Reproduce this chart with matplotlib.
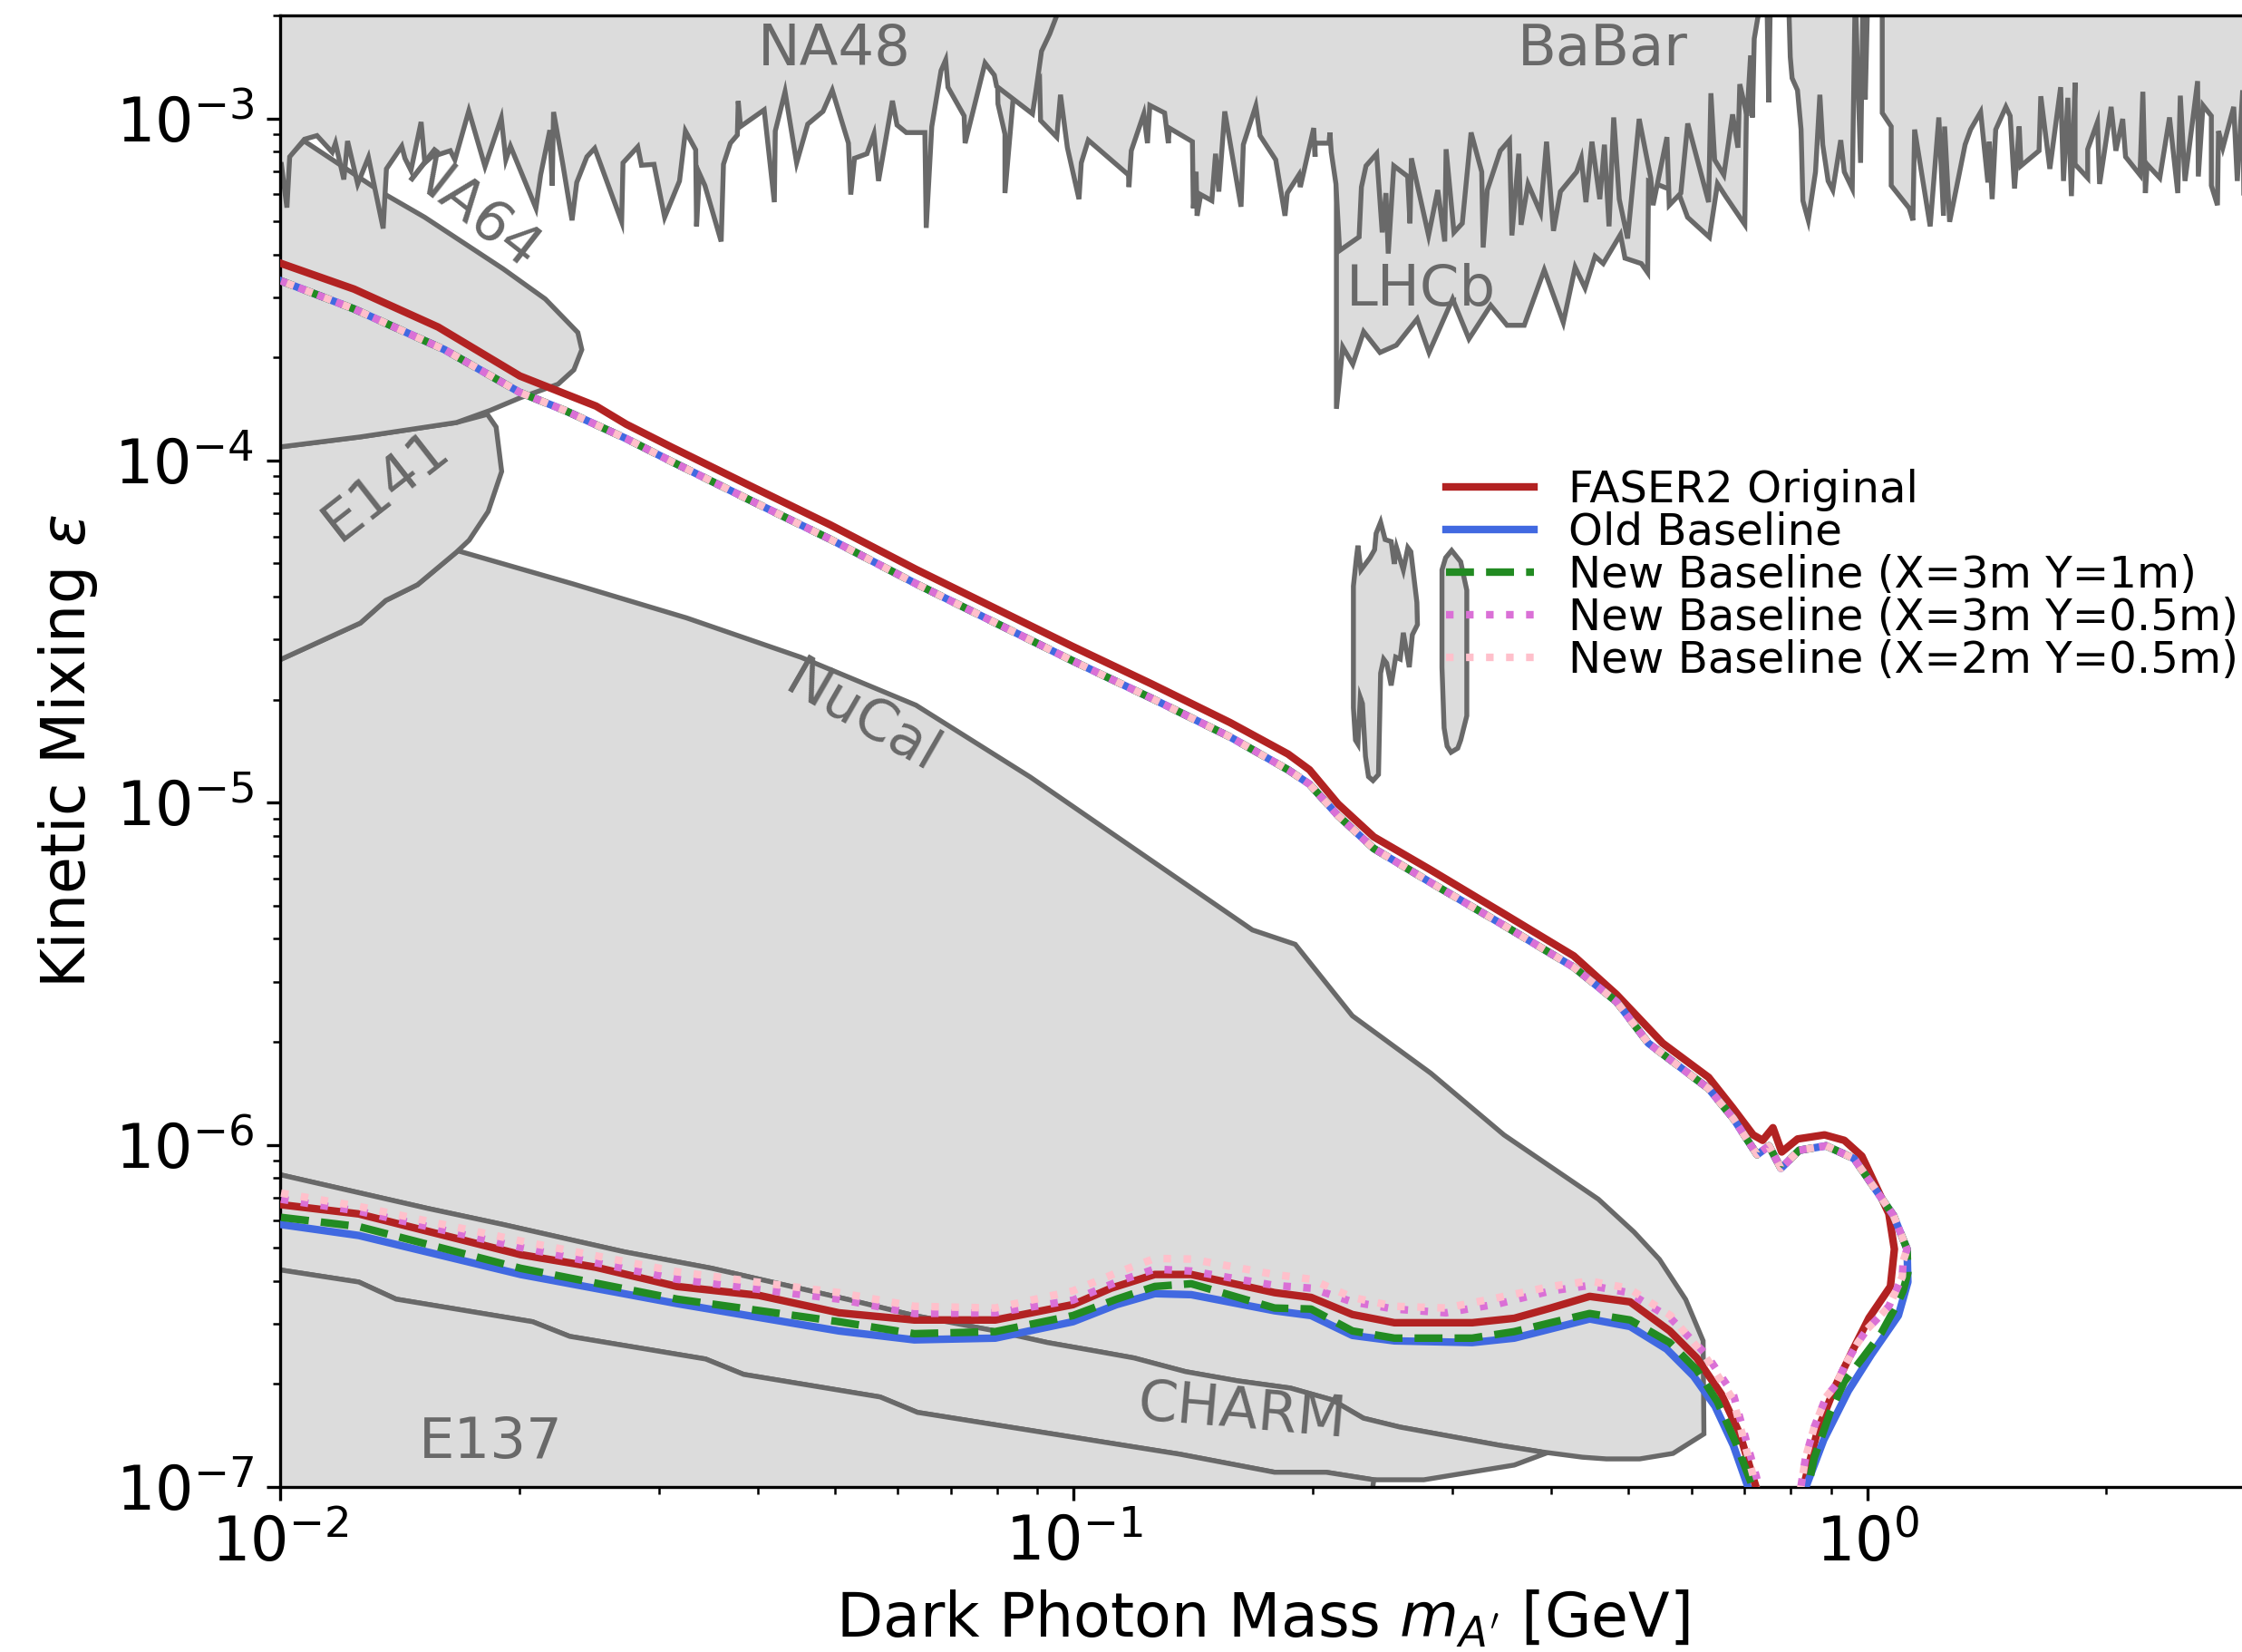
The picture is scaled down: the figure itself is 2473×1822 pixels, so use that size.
import numpy as np
import matplotlib.pyplot as plt

# all shapes are (log10 m [GeV], log10 eps) pairs

# ---------------- FASER2 reach contours ----------------
# lower branches: left to right, ending just below the x-axis
orig_lower = [(-1.999, -6.175), (-1.901, -6.202), (-1.697, -6.321), (-1.602, -6.358), (-1.500, -6.414),
              (-1.397, -6.440), (-1.296, -6.491), (-1.201, -6.512), (-1.099, -6.512), (-1.001, -6.467),
              (-0.953, -6.419), (-0.898, -6.379), (-0.852, -6.379), (-0.747, -6.432), (-0.701, -6.446),
              (-0.649, -6.496), (-0.596, -6.520), (-0.498, -6.520), (-0.445, -6.507), (-0.399, -6.477),
              (-0.350, -6.443), (-0.299, -6.459), (-0.249, -6.544), (-0.215, -6.623), (-0.184, -6.729),
              (-0.161, -6.844), (-0.140, -7.003), (-0.135, -7.100)]
# upper branch: from m = 0.01 over the tip down to the x-axis
orig_upper = [(-1.999, -3.424), (-1.907, -3.499), (-1.801, -3.610), (-1.698, -3.753), (-1.602, -3.841),
              (-1.564, -3.894), (-1.506, -3.962), (-1.407, -4.075), (-1.307, -4.188), (-1.199, -4.318),
              (-1.100, -4.431), (-1.001, -4.544), (-0.902, -4.653), (-0.803, -4.766), (-0.730, -4.858),
              (-0.703, -4.904), (-0.667, -5.004), (-0.622, -5.100), (-0.550, -5.197), (-0.460, -5.322),
              (-0.370, -5.448), (-0.316, -5.561), (-0.258, -5.703), (-0.200, -5.803), (-0.170, -5.891),
              (-0.144, -5.971), (-0.132, -5.987), (-0.119, -5.950), (-0.108, -6.021), (-0.088, -5.983),
              (-0.054, -5.971), (-0.029, -5.987), (-0.007, -6.033), (0.005, -6.092), (0.027, -6.201),
              (0.034, -6.305), (0.029, -6.414), (0.002, -6.506), (-0.018, -6.598), (-0.040, -6.703),
              (-0.063, -6.837), (-0.081, -7.004), (-0.086, -7.100)]

# the four baseline curves share the upper branch up to the tip
base_upper = [(-1.999, -3.475), (-1.907, -3.557), (-1.793, -3.676), (-1.698, -3.801), (-1.641, -3.854),
              (-1.564, -3.936), (-1.506, -4.004), (-1.407, -4.117), (-1.307, -4.230), (-1.199, -4.360),
              (-1.100, -4.473), (-1.001, -4.586), (-0.902, -4.695), (-0.803, -4.808), (-0.730, -4.904),
              (-0.703, -4.946), (-0.667, -5.038), (-0.622, -5.134), (-0.550, -5.234), (-0.460, -5.356),
              (-0.370, -5.481), (-0.316, -5.582), (-0.276, -5.703), (-0.200, -5.836), (-0.169, -5.923),
              (-0.139, -6.029), (-0.124, -6.003), (-0.109, -6.069), (-0.086, -6.016), (-0.052, -6.003),
              (-0.017, -6.040), (-0.001, -6.093), (0.033, -6.207), (0.050, -6.305)]
old_tail = [(0.051, -6.401), (0.039, -6.499), (0.005, -6.613), (-0.024, -6.719), (-0.055, -6.862),
            (-0.078, -7.003), (-0.085, -7.100)]
x3y1_tail = [(0.051, -6.374), (0.045, -6.427), (0.036, -6.472), (0.017, -6.552), (-0.006, -6.623),
             (-0.029, -6.692), (-0.047, -6.782), (-0.067, -6.915), (-0.075, -7.003), (-0.080, -7.100)]
y05_tail = [(0.045, -6.340), (0.044, -6.385), (0.036, -6.427), (0.027, -6.472), (0.013, -6.507),
            (0.000, -6.538), (-0.012, -6.578), (-0.027, -6.639), (-0.040, -6.703), (-0.052, -6.737),
            (-0.067, -6.825), (-0.078, -6.915), (-0.084, -7.003), (-0.088, -7.100)]

old_lower = [(-1.999, -6.233), (-1.901, -6.265), (-1.697, -6.379), (-1.500, -6.464), (-1.296, -6.544),
             (-1.201, -6.570), (-1.099, -6.565), (-1.001, -6.517), (-0.946, -6.467), (-0.898, -6.435),
             (-0.852, -6.438), (-0.747, -6.485), (-0.701, -6.499), (-0.649, -6.557), (-0.596, -6.573),
             (-0.498, -6.578), (-0.445, -6.565), (-0.399, -6.538), (-0.350, -6.509), (-0.299, -6.531),
             (-0.253, -6.597), (-0.219, -6.676), (-0.192, -6.764), (-0.169, -6.878), (-0.150, -7.003),
             (-0.145, -7.100)]
x3y1_lower = [(-1.999, -6.212), (-1.901, -6.239), (-1.697, -6.361), (-1.500, -6.451), (-1.296, -6.517),
              (-1.201, -6.552), (-1.099, -6.546), (-1.001, -6.499), (-0.946, -6.451), (-0.898, -6.414),
              (-0.852, -6.406), (-0.747, -6.477), (-0.701, -6.480), (-0.649, -6.544), (-0.596, -6.565),
              (-0.498, -6.565), (-0.445, -6.546), (-0.399, -6.520), (-0.350, -6.493), (-0.299, -6.512),
              (-0.249, -6.578), (-0.215, -6.658), (-0.189, -6.751), (-0.166, -6.870), (-0.144, -7.003),
              (-0.139, -7.100)]
x3y05_lower = [(-1.999, -6.159), (-1.901, -6.194), (-1.697, -6.300), (-1.500, -6.393), (-1.296, -6.451),
               (-1.201, -6.493), (-1.099, -6.491), (-1.001, -6.454), (-0.946, -6.401), (-0.898, -6.363),
               (-0.852, -6.369), (-0.747, -6.411), (-0.701, -6.419), (-0.649, -6.459), (-0.596, -6.480),
               (-0.531, -6.491), (-0.464, -6.464), (-0.399, -6.427), (-0.350, -6.411), (-0.301, -6.432),
               (-0.248, -6.507), (-0.203, -6.613), (-0.169, -6.729), (-0.136, -7.003), (-0.132, -7.100)]
x2y05_lower = [(-1.999, -6.141), (-1.901, -6.180), (-1.697, -6.281), (-1.500, -6.371), (-1.296, -6.432),
               (-1.201, -6.472), (-1.099, -6.477), (-1.001, -6.427), (-0.946, -6.374), (-0.898, -6.332),
               (-0.852, -6.334), (-0.747, -6.379), (-0.701, -6.393), (-0.649, -6.446), (-0.596, -6.472),
               (-0.531, -6.477), (-0.464, -6.446), (-0.399, -6.414), (-0.350, -6.398), (-0.301, -6.419),
               (-0.248, -6.499), (-0.203, -6.623), (-0.169, -6.745), (-0.140, -7.003), (-0.136, -7.100)]

# ---------------- excluded regions ----------------
na48_edge = [(-1.9986, -3.1344), (-1.9916, -3.2608), (-1.9881, -3.1123), (-1.9695, -3.0610), (-1.9537, -3.0504),
             (-1.9345, -3.0990), (-1.9304, -3.0725), (-1.9199, -3.1786), (-1.9152, -3.0663), (-1.9024, -3.1918),
             (-1.8889, -3.1140), (-1.8703, -3.3218), (-1.8662, -3.1476), (-1.8469, -3.0813), (-1.8429, -3.1167),
             (-1.8353, -3.1520), (-1.8225, -3.0106), (-1.8178, -3.1300), (-1.8090, -3.1123), (-1.7857, -3.0946),
             (-1.7799, -3.1211), (-1.7624, -2.9779), (-1.7420, -3.1406), (-1.7215, -2.9991), (-1.7157, -3.1211),
             (-1.7099, -3.0813), (-1.6778, -3.2626), (-1.6719, -3.1653), (-1.6603, -3.0345), (-1.6573, -3.1963),
             (-1.6556, -2.9814), (-1.6439, -3.1344), (-1.6323, -3.2980), (-1.6264, -3.1874), (-1.6136, -3.1123),
             (-1.6037, -3.0875), (-1.5698, -3.3024), (-1.5681, -3.1300), (-1.5495, -3.0831), (-1.5448, -3.1370),
             (-1.5290, -3.1344), (-1.5156, -3.2891), (-1.4969, -3.1830), (-1.4894, -3.0371), (-1.4765, -3.0919),
             (-1.4754, -3.3156), (-1.4718, -3.1609), (-1.4649, -3.1963), (-1.4444, -3.3598), (-1.4415, -3.1344),
             (-1.4328, -3.0725), (-1.4240, -3.0486), (-1.4229, -2.9496), (-1.4200, -3.0239), (-1.3902, -2.9752),
             (-1.3774, -3.2449), (-1.3762, -3.0371), (-1.3639, -2.9222), (-1.3493, -3.1300), (-1.3353, -3.0168),
             (-1.3161, -2.9796), (-1.3044, -2.9178), (-1.2840, -3.0725), (-1.2811, -3.2228), (-1.2764, -3.1167),
             (-1.2607, -3.1034), (-1.2519, -3.0459), (-1.2461, -3.1830), (-1.2286, -2.9487), (-1.2228, -3.0194),
             (-1.2111, -3.0415), (-1.1877, -3.0415), (-1.1860, -3.3201), (-1.1790, -3.0239), (-1.1673, -2.8603),
             (-1.1615, -2.8293), (-1.1586, -2.9089), (-1.1382, -2.9929), (-1.1370, -3.0725), (-1.1119, -2.8382),
             (-1.1002, -2.8736), (-1.0973, -2.9062),
             # right edge rising to the top
             (-1.0521, -2.9867), (-1.0476, -2.9178), (-1.0407, -2.8037), (-1.0304, -2.7533), (-1.0212, -2.6976),
             (-1.0132, -2.6260)]

babar_edge = [(-1.0956, -2.9576), (-1.0868, -3.0460), (-1.0868, -3.2184), (-1.0752, -2.9089), (-1.0577, -2.8780),
              (-1.0501, -2.9178), (-1.0431, -2.8912), (-1.0419, -3.0062), (-1.0215, -3.0548), (-1.0168, -2.9310),
              (-1.0081, -3.0857), (-0.9935, -3.2361), (-0.9906, -3.1299), (-0.9818, -3.0637), (-0.9311, -3.1653),
              (-0.9305, -3.2007), (-0.9276, -3.0946), (-0.9118, -2.9867), (-0.9072, -3.0725), (-0.9042, -2.9620),
              (-0.8856, -2.9841), (-0.8809, -3.0725), (-0.8797, -3.0283), (-0.8506, -3.0681), (-0.8494, -3.2626),
              (-0.8459, -3.1565), (-0.8447, -3.2847), (-0.8401, -3.2228), (-0.8261, -3.2405), (-0.8214, -3.1034),
              (-0.8173, -3.2140), (-0.8098, -2.9797), (-0.7893, -3.2582), (-0.7864, -3.0769), (-0.7707, -2.9637),
              (-0.7654, -3.0504), (-0.7456, -3.1211), (-0.7339, -3.2847), (-0.7310, -3.2184), (-0.7164, -3.1653),
              (-0.7146, -3.2007), (-0.6977, -3.0283), (-0.6960, -3.1123), (-0.6960, -3.0725), (-0.6785, -3.0725),
              (-0.6773, -3.0415), (-0.6756, -3.0990), (-0.6697, -3.1918), (-0.6651, -3.3864), (-0.6405, -3.3466),
              (-0.6376, -3.2007), (-0.6318, -3.1388), (-0.6184, -3.1034), (-0.6114, -3.3333), (-0.6067, -3.2184),
              (-0.6038, -3.3952), (-0.5968, -3.1388), (-0.5793, -3.1697), (-0.5764, -3.3068), (-0.5746, -3.1167),
              (-0.5530, -3.3422), (-0.5414, -3.2095), (-0.5326, -3.3598), (-0.5309, -3.0902), (-0.5210, -3.3333),
              (-0.5105, -3.3068), (-0.4994, -3.0415), (-0.4860, -3.1565), (-0.4842, -3.3775), (-0.4790, -3.2095),
              (-0.4626, -3.0946), (-0.4510, -3.0637), (-0.4480, -3.3422), (-0.4393, -3.1034), (-0.4364, -3.3112),
              (-0.4276, -3.1918), (-0.4119, -3.2759), (-0.4043, -3.0681), (-0.3956, -3.3289), (-0.3868, -3.2140),
              (-0.3664, -3.1565), (-0.3605, -3.1167), (-0.3547, -3.2449), (-0.3471, -3.0681), (-0.3372, -3.2361),
              (-0.3314, -3.0769), (-0.3256, -3.3156), (-0.3197, -2.9973), (-0.3127, -3.2361), (-0.3022, -3.3510),
              (-0.2876, -3.0017), (-0.2730, -3.1742), (-0.2701, -3.2538), (-0.2526, -3.0548), (-0.2497, -3.2538),
              (-0.2351, -3.2184), (-0.2264, -3.0150), (-0.2001, -3.2449), (-0.1972, -2.9266), (-0.1925, -3.1211),
              (-0.1809, -3.1653), (-0.1699, -2.9885), (-0.1631, -3.0857), (-0.1608, -2.9001), (-0.1517, -2.9929),
              (-0.1472, -2.8161), (-0.1449, -2.9973), (-0.1426, -2.7674), (-0.1381, -2.7056), (-0.1267, -2.6348),
              (-0.1244, -2.9531), (-0.1222, -2.6348), (-0.0995, -2.6348), (-0.0972, -2.8205), (-0.0949, -2.8824),
              (-0.0881, -2.9178), (-0.0836, -3.0327), (-0.0813, -3.2405), (-0.0745, -3.2980), (-0.0654, -3.1565),
              (-0.0599, -2.9310), (-0.0563, -3.0769), (-0.0495, -3.1830), (-0.0436, -3.2095), (-0.0336, -3.0637),
              (-0.0291, -3.1565), (-0.0191, -3.2051), (-0.0154, -2.6348), (-0.0086, -3.1300), (-0.0054, -2.6348),
              (-0.0027, -2.9443), (0.0005, -2.6348), (0.0187, -2.6348), (0.0187, -2.9841), (0.0300, -3.0238),
              (0.0300, -3.1963), (0.0527, -3.2626), (0.0573, -3.2980), (0.0595, -3.0327), (0.0791, -3.3156),
              (0.0900, -2.9973), (0.0959, -3.2847), (0.0973, -3.0238), (0.1036, -3.3024), (0.1231, -3.0769),
              (0.1300, -3.0327), (0.1427, -2.9814), (0.1518, -3.1874), (0.1536, -3.0681), (0.1572, -3.2361),
              (0.1617, -3.0327), (0.1745, -2.9664), (0.1799, -2.9929), (0.1854, -3.2051), (0.1913, -3.0238),
              (0.1935, -3.1388), (0.2163, -3.0946), (0.2185, -2.9354), (0.2299, -3.1476), (0.2435, -2.9089),
              (0.2471, -3.1830), (0.2526, -2.9399), (0.2571, -3.2272), (0.2617, -2.8956), (0.2617, -3.1344),
              (0.2776, -3.1742), (0.2776, -3.0902), (0.2899, -3.0106), (0.2926, -3.1918), (0.3071, -2.9664),
              (0.3131, -3.0946), (0.3217, -3.0017), (0.3253, -3.1123), (0.3435, -3.1653), (0.3471, -2.9222),
              (0.3503, -3.2184), (0.3525, -3.1344), (0.3684, -3.1742), (0.3807, -2.9973), (0.3911, -3.2184),
              (0.3943, -2.9337), (0.4002, -3.1830), (0.4161, -2.8912), (0.4170, -3.1698), (0.4229, -2.9620),
              (0.4334, -2.9929), (0.4334, -3.1963), (0.4411, -3.2538), (0.4425, -3.0371), (0.4479, -3.0857),
              (0.4616, -2.9664), (0.4661, -3.1830), (0.4729, -2.9178), (0.4743, -3.2184), (0.4900, -3.2184)]

lhcb_edge = [(-0.6691, -2.5995), (-0.6691, -3.8488), (-0.6611, -3.6684), (-0.6485, -3.7188), (-0.6348, -3.6234),
             (-0.6142, -3.6843), (-0.5936, -3.6631), (-0.5673, -3.5862), (-0.5524, -3.6843), (-0.5227, -3.5279),
             (-0.5021, -3.6446), (-0.4747, -3.5464), (-0.4541, -3.6048), (-0.4324, -3.6048), (-0.4072, -3.4430),
             (-0.3832, -3.5968), (-0.3683, -3.4350), (-0.3558, -3.4960), (-0.3432, -3.4032), (-0.3329, -3.4244),
             (-0.3112, -3.3395), (-0.3055, -3.4085), (-0.2849, -3.4244), (-0.2769, -3.4509), (-0.2758, -3.1830),
             (-0.2380, -3.2175), (-0.2266, -3.2891), (-0.1991, -3.3475), (-0.1889, -3.1910), (-0.1786, -3.2281),
             (-0.1545, -3.3103), (-0.1523, -2.9523), (-0.1500, -2.5995)]

na64_edge = [(-1.999, -3.135), (-1.970, -3.066), (-1.871, -3.218), (-1.818, -3.289), (-1.719, -3.440),
             (-1.666, -3.528), (-1.625, -3.626), (-1.620, -3.676), (-1.630, -3.735), (-1.650, -3.777),
             (-1.698, -3.817), (-1.736, -3.854), (-1.778, -3.889), (-1.899, -3.931), (-1.999, -3.960)]

e141_edge = [(-1.999, -3.960), (-1.899, -3.931), (-1.778, -3.889), (-1.739, -3.865), (-1.728, -3.902),
             (-1.721, -4.032), (-1.738, -4.149), (-1.762, -4.233), (-1.778, -4.268), (-1.827, -4.363),
             (-1.867, -4.409), (-1.899, -4.475), (-1.999, -4.581)]

nucal_upper = [(-1.999, -4.581), (-1.899, -4.475), (-1.867, -4.409), (-1.827, -4.363), (-1.776, -4.264),
               (-1.632, -4.360), (-1.488, -4.460), (-1.344, -4.575), (-1.199, -4.715), (-1.055, -4.925),
               (-0.911, -5.155), (-0.775, -5.372), (-0.721, -5.414), (-0.649, -5.623), (-0.550, -5.791),
               (-0.458, -5.971), (-0.339, -6.159), (-0.294, -6.255), (-0.262, -6.335), (-0.229, -6.452),
               (-0.207, -6.573), (-0.206, -6.845)]
# line between NuCal (above) and CHARM (below), left to right
nucal_charm = [(-1.999, -6.088), (-1.814, -6.186), (-1.719, -6.233), (-1.566, -6.313), (-1.456, -6.361),
               (-1.281, -6.454), (-1.201, -6.499), (-1.099, -6.544), (-1.033, -6.578), (-0.967, -6.605),
               (-0.924, -6.623), (-0.859, -6.663), (-0.793, -6.690), (-0.727, -6.711), (-0.675, -6.745),
               (-0.635, -6.799), (-0.589, -6.825), (-0.464, -6.878), (-0.412, -6.897), (-0.359, -6.913),
               (-0.329, -6.918), (-0.287, -6.918), (-0.245, -6.902), (-0.206, -6.845)]
# line between CHARM (above) and E137 (below), left to right
charm_e137 = [(-1.999, -6.366), (-1.901, -6.401), (-1.854, -6.451), (-1.682, -6.517), (-1.635, -6.560),
              (-1.464, -6.626), (-1.416, -6.671), (-1.244, -6.737), (-1.197, -6.782), (-0.924, -6.883),
              (-0.867, -6.904), (-0.747, -6.957), (-0.682, -6.957), (-0.622, -6.979), (-0.559, -6.979),
              (-0.445, -6.936), (-0.408, -6.904)]

island_left = [(-0.6420, -4.2488), (-0.6382, -4.3199), (-0.6268, -4.2843), (-0.6210, -4.2607), (-0.6191, -4.2132),
               (-0.6134, -4.1801), (-0.6077, -4.2310), (-0.6001, -4.2369), (-0.5962, -4.3021), (-0.5933, -4.2546),
               (-0.5848, -4.3199), (-0.5791, -4.2546), (-0.5753, -4.2666), (-0.5677, -4.4146), (-0.5670, -4.4796),
               (-0.5734, -4.5093), (-0.5773, -4.6040), (-0.5848, -4.5034), (-0.5887, -4.5804), (-0.5944, -4.5745),
               (-0.6001, -4.6573), (-0.6058, -4.5923), (-0.6096, -4.5804), (-0.6134, -4.6217), (-0.6161, -4.9178),
               (-0.6230, -4.9355), (-0.6287, -4.9239), (-0.6325, -4.8645), (-0.6363, -4.7106), (-0.6390, -4.6928),
               (-0.6420, -4.8289), (-0.6451, -4.8172), (-0.6477, -4.7225), (-0.6477, -4.3671), (-0.6439, -4.2843)]
island_right = [(-0.5239, -4.2629), (-0.5125, -4.2960), (-0.5087, -4.3377), (-0.5048, -4.3791), (-0.5048, -4.7461),
                (-0.5125, -4.8172), (-0.5162, -4.8408), (-0.5247, -4.8528), (-0.5296, -4.8350), (-0.5334, -4.7817),
                (-0.5361, -4.6040), (-0.5361, -4.3199), (-0.5315, -4.2843)]

# region labels: text, log10 m, log10 eps, rotation
region_labels = [('NA48', -1.302, -2.799, 0), ('BaBar', -0.334, -2.799, 0), ('LHCb', -0.563, -3.502, 0),
                 ('NA64', -1.758, -3.280, -38), ('E141', -1.867, -4.075, 38), ('NuCal', -1.266, -4.755, -30),
                 ('CHARM', -0.788, -6.782, -5), ('E137', -1.735, -6.870, 0)]

curve_labels = ['FASER2 Original', 'Old Baseline', 'New Baseline (X=3m Y=1m)',
                'New Baseline (X=3m Y=0.5m)', 'New Baseline (X=2m Y=0.5m)']

LEFT, TOP, BOT = -2.05, -2.40, -7.20


def region(ax, pts):
    pts = np.array(pts)
    ax.fill(10**pts[:, 0], 10**pts[:, 1], facecolor='gainsboro', edgecolor='dimgray',
            linewidth=1.3, zorder=1)


def contour(lower, upper):
    pts = np.array(lower + upper[::-1])
    return 10**pts[:, 0], 10**pts[:, 1]


fig = plt.figure(figsize=(2473 / 300, 1822 / 300), dpi=300)
ax = fig.add_axes([0.125, 0.0999, 0.8768, 0.8908])

nucal = [(LEFT, nucal_upper[0][1])] + nucal_upper + nucal_charm[::-1] + [(LEFT, nucal_charm[0][1])]
charm = [(LEFT, nucal_charm[0][1])] + nucal_charm[:19] + charm_e137[::-1] + [(LEFT, charm_e137[0][1])]
e137 = [(LEFT, charm_e137[0][1])] + charm_e137[:14] + [(-0.635, BOT), (LEFT, BOT)]
e141 = [(LEFT, e141_edge[0][1])] + e141_edge + [(LEFT, e141_edge[-1][1])]
na64 = [(LEFT, na64_edge[0][1])] + na64_edge + [(LEFT, na64_edge[-1][1])]
babar = [(-1.10, TOP)] + babar_edge + [(0.49, TOP)]
na48 = [(LEFT, TOP), (LEFT, na48_edge[0][1])] + na48_edge + [(-1.0132, TOP)]

for shape in [nucal, charm, e137, e141, na64, lhcb_edge, babar, na48, island_left, island_right]:
    region(ax, shape)

for text, lm, le, rot in region_labels:
    ax.text(10**lm, 10**le, text, color='dimgray', fontsize=15, rotation=rot,
            rotation_mode='anchor', ha='center', va='center', zorder=2)

ax.plot(*contour(orig_lower, orig_upper), color='firebrick', lw=2, ls='-', label=curve_labels[0], zorder=3)
ax.plot(*contour(old_lower, base_upper + old_tail), color='royalblue', lw=2, ls='-',
        label=curve_labels[1], zorder=3)
ax.plot(*contour(x3y1_lower, base_upper + x3y1_tail), color='forestgreen', lw=2, ls='--',
        label=curve_labels[2], zorder=3)
ax.plot(*contour(x3y05_lower, base_upper + y05_tail), color='orchid', lw=2, ls=':',
        label=curve_labels[3], zorder=3)
ax.plot(*contour(x2y05_lower, base_upper + y05_tail), color='pink', lw=2, ls=':',
        label=curve_labels[4], zorder=3)

ax.set_xscale('log')
ax.set_yscale('log')
ax.set_xlim(1e-2, 3.0)
ax.set_ylim(1e-7, 2e-3)
ax.set_xlabel("Dark Photon Mass $m_{A'}$ [GeV]", fontsize=16)
ax.set_ylabel(r'Kinetic Mixing $\epsilon$', fontsize=16)
ax.tick_params(labelsize=16)

ax.legend(loc='upper left', bbox_to_anchor=(0.593, 0.692), frameon=False, fontsize=11.6,
          labelspacing=0.0, borderpad=0.0, borderaxespad=0.0)

fig.savefig('out.png', dpi=300)
